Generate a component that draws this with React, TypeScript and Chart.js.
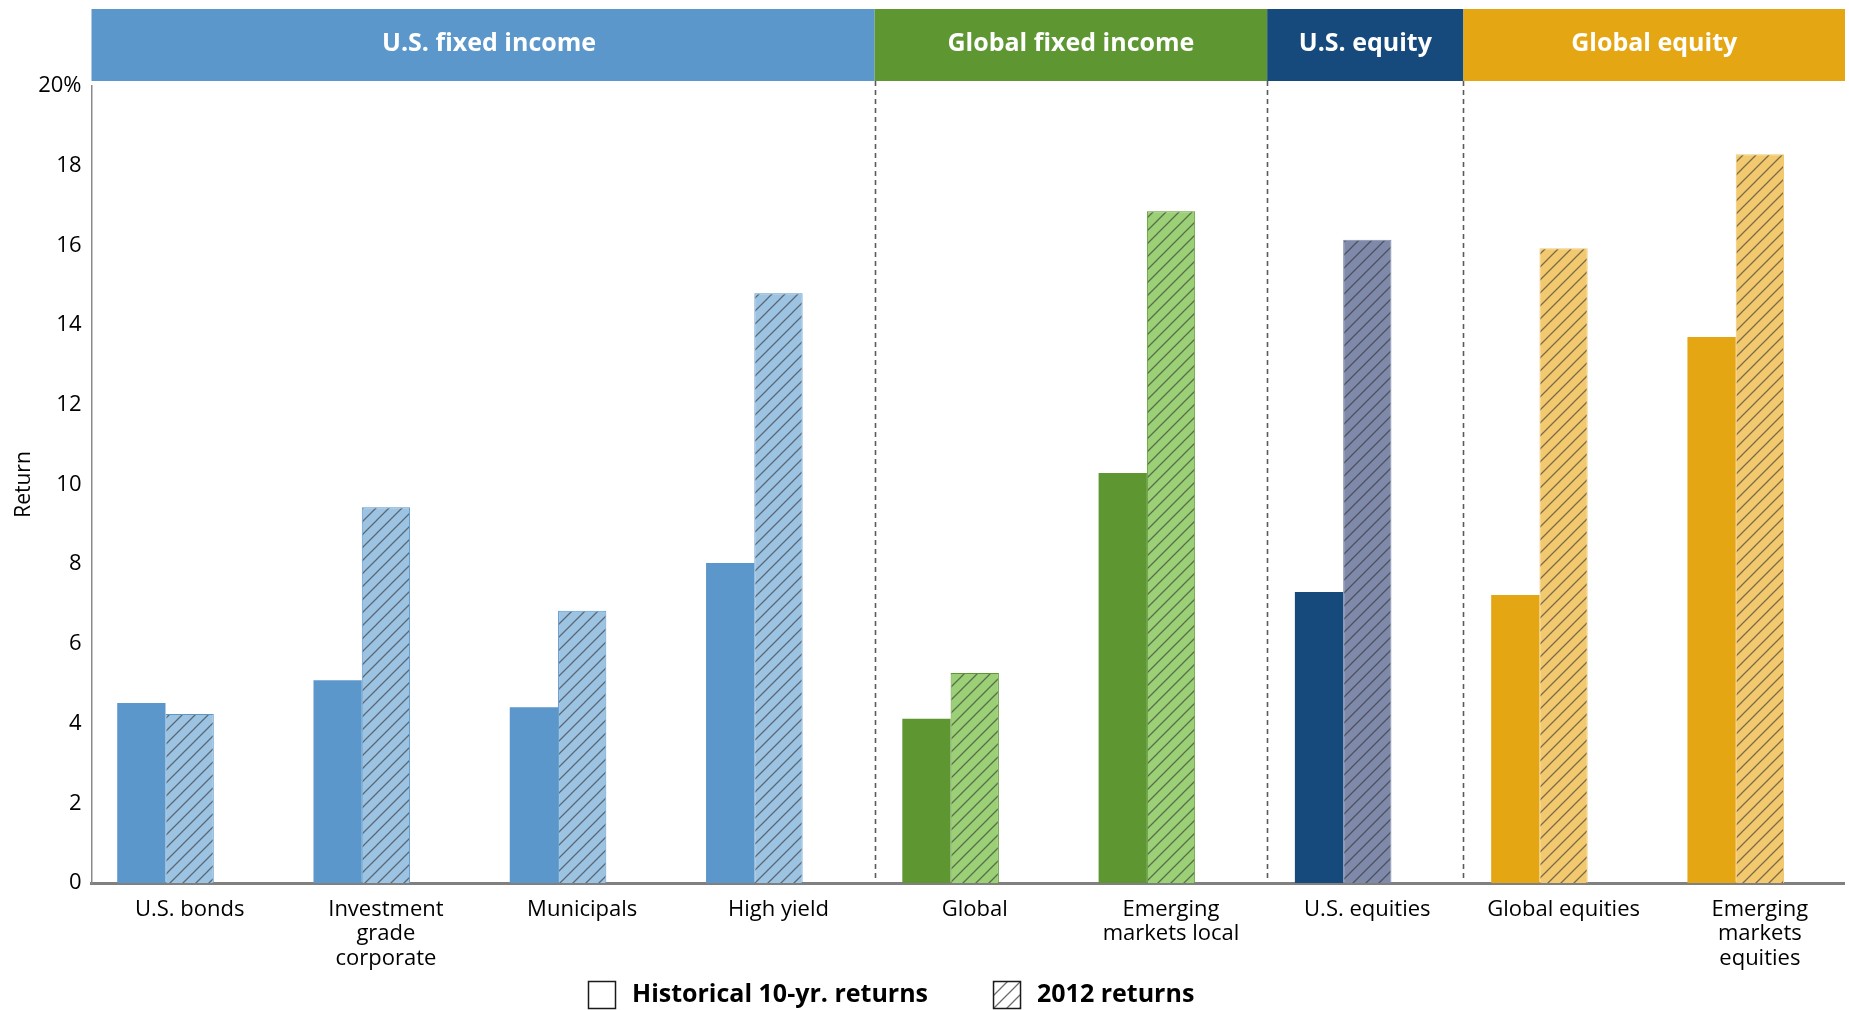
import { useEffect, useRef } from 'react';
import { Chart, registerables } from 'chart.js';

Chart.register(...registerables);

// Asset classes (multi-line tick labels)
const categories: string[][] = [
  ['U.S. bonds'],
  ['Investment', 'grade', 'corporate'],
  ['Municipals'],
  ['High yield'],
  ['Global'],
  ['Emerging', 'markets local'],
  ['U.S. equities'],
  ['Global equities'],
  ['Emerging', 'markets', 'equities'],
];

// Annualized returns, %
const historical10yr = [4.52, 5.09, 4.41, 8.03, 4.12, 10.29, 7.3, 7.23, 13.7];
const returns2012 = [4.24, 9.43, 6.83, 14.8, 5.27, 16.86, 16.14, 15.93, 18.29];

// Header groups over the categories
const groupNames = ['U.S. fixed income', 'Global fixed income', 'U.S. equity', 'Global equity'];
const groupSizes = [4, 2, 1, 2];
const groupColors = ['#5B97CA', '#5E9632', '#174A7C', '#E5A613'];
const groupLightColors = ['#9DC3E3', '#9BD076', '#7F89AA', '#F2C96F'];
const groupOutlined = [true, true, false, false];

const yMin = 0;
const yMax = 20;
const yStep = 2;

const legendLabels = ['Historical 10-yr. returns', '2012 returns'];

const FONT = '"Open Sans", "Noto Sans", sans-serif';
const CANVAS_W = 1858;
const CANVAS_H = 1010;
const VISIBLE_W = 1845;

// group index for each category
const groupOfCategory: number[] = groupSizes.flatMap((n, g) => Array(n).fill(g));

function makeHatch(ctx: CanvasRenderingContext2D, fill: string, line: string): CanvasPattern {
  const s = 13;
  const tile = document.createElement('canvas');
  tile.width = s;
  tile.height = s;
  const g = tile.getContext('2d')!;
  g.fillStyle = fill;
  g.fillRect(0, 0, s, s);
  g.strokeStyle = line;
  g.lineWidth = 1.3;
  g.beginPath();
  g.moveTo(-2, s + 2);
  g.lineTo(s + 2, -2);
  g.moveTo(-2, 2);
  g.lineTo(2, -2);
  g.moveTo(s - 2, s + 2);
  g.lineTo(s + 2, s - 2);
  g.stroke();
  return ctx.createPattern(tile, 'repeat')!;
}

export default function App() {
  const canvasRef = useRef<HTMLCanvasElement | null>(null);

  useEffect(() => {
    const canvas = canvasRef.current!;
    const ctx = canvas.getContext('2d')!;

    const hatchLine = 'rgba(45,45,45,0.6)';
    const hatchFills = groupLightColors.map((c) => makeHatch(ctx, c, hatchLine));
    const legendHatch = makeHatch(ctx, '#ffffff', 'rgba(60,60,60,0.75)');

    const histColors = groupOfCategory.map((g) => groupColors[g]);
    const hatchColors = groupOfCategory.map((g) => hatchFills[g]);
    const hatchBorders = groupOfCategory.map((g) =>
      groupOutlined[g] ? groupColors[g] : groupLightColors[g]
    );
    const spacer = categories.map(() => null);

    const headerPlugin = {
      id: 'groupHeader',
      afterDraw(chart: Chart) {
        const c = chart.ctx;
        const area = chart.chartArea;
        const x = chart.scales.x;
        const cat = x.getPixelForValue(1) - x.getPixelForValue(0);
        const bandTop = 9;
        const bandBottom = area.top - 5;
        c.save();
        let start = 0;
        groupSizes.forEach((n, g) => {
          const left = g === 0 ? area.left : x.getPixelForValue(start) - cat / 2 - 2;
          const right =
            g === groupSizes.length - 1
              ? area.right
              : x.getPixelForValue(start + n - 1) + cat / 2 - 2;
          c.fillStyle = groupColors[g];
          c.fillRect(left, bandTop, right - left, bandBottom - bandTop);
          const visibleRight = Math.min(right, VISIBLE_W);
          c.fillStyle = '#ffffff';
          c.font = `bold 25px ${FONT}`;
          c.textAlign = 'center';
          c.textBaseline = 'middle';
          c.fillText(groupNames[g], (left + visibleRight) / 2 + (g === 0 ? 6 : 0), (bandTop + bandBottom) / 2 - 1);
          if (g > 0) {
            c.strokeStyle = '#5a5a5a';
            c.lineWidth = 1.6;
            c.setLineDash([5, 4]);
            c.beginPath();
            const xx = Math.round(left) + 0.5;
            c.moveTo(xx, bandBottom);
            c.lineTo(xx, area.bottom - 2);
            c.stroke();
            c.setLineDash([]);
          }
          start += n;
        });

        // legend
        const box = 28;
        const boxTop = 981;
        const midY = boxTop + box / 2;
        let lx = 588;
        c.font = `bold 25px ${FONT}`;
        c.textAlign = 'left';
        c.textBaseline = 'middle';
        legendLabels.forEach((label, i) => {
          c.fillStyle = i === 0 ? '#ffffff' : legendHatch;
          c.fillRect(lx, boxTop, box, box);
          c.strokeStyle = '#1a1a1a';
          c.lineWidth = 1.5;
          c.strokeRect(lx + 0.5, boxTop + 0.5, box - 1, box - 1);
          c.fillStyle = '#000000';
          c.fillText(label, lx + box + 16, midY);
          lx += box + 16 + c.measureText(label).width + 65;
        });
        c.restore();
      },
    };

    const chart = new Chart(canvas, {
      type: 'bar',
      data: {
        labels: categories,
        datasets: [
          {
            label: legendLabels[0],
            data: historical10yr,
            backgroundColor: histColors,
            borderWidth: 0,
          },
          {
            label: legendLabels[1],
            data: returns2012,
            backgroundColor: hatchColors,
            borderColor: hatchBorders,
            borderWidth: 1,
          },
          {
            label: '',
            data: spacer,
            backgroundColor: 'rgba(0,0,0,0)',
          },
        ],
      },
      options: {
        responsive: false,
        animation: false,
        layout: { padding: { top: 86, left: 0, right: 0, bottom: 0 } },
        datasets: { bar: { categoryPercentage: 0.738, barPercentage: 1 } },
        plugins: {
          legend: { display: false },
          tooltip: { enabled: false },
        },
        scales: {
          x: {
            offset: true,
            grid: { display: false, drawTicks: false },
            border: { display: true, color: '#808080', width: 3 },
            ticks: {
              autoSkip: false,
              maxRotation: 0,
              padding: 14,
              color: '#000000',
              font: { family: FONT, size: 22, lineHeight: 1.12 },
            },
            afterFit: (s: any) => {
              s.height = CANVAS_H - 883;
            },
          },
          y: {
            min: yMin,
            max: yMax,
            grid: { display: false, drawTicks: false },
            border: { display: true, color: '#8a8a8a', width: 1.5 },
            ticks: {
              stepSize: yStep,
              padding: 10,
              color: '#000000',
              font: { family: FONT, size: 22 },
              callback: (v: any) => (Number(v) === yMax ? `${v}%` : `${v}`),
            },
            title: {
              display: true,
              text: 'Return',
              color: '#000000',
              font: { family: FONT, size: 21 },
              padding: { top: 11, bottom: 0 },
            },
            afterFit: (s: any) => {
              s.width = 91.5;
            },
          },
        },
      },
      plugins: [headerPlugin],
    });

    return () => chart.destroy();
  }, []);

  return (
    <div
      style={{
        position: 'fixed',
        left: 0,
        top: 0,
        width: VISIBLE_W,
        height: CANVAS_H,
        overflow: 'hidden',
        background: '#ffffff',
      }}
    >
      <canvas
        ref={canvasRef}
        width={CANVAS_W}
        height={CANVAS_H}
        style={{ display: 'block', width: CANVAS_W, height: CANVAS_H }}
      />
    </div>
  );
}
